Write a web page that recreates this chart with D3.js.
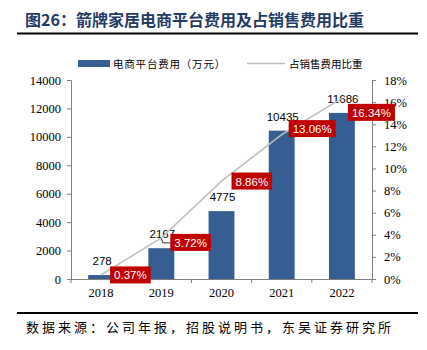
<!DOCTYPE html>
<html><head><meta charset="utf-8">
<script src="https://cdn.jsdelivr.net/npm/d3@7"></script>
<style>body{margin:0;background:#fff}svg{display:block}</style>
</head><body>
<script>
const years = ["2018","2019","2020","2021","2022"];
const costs = [278, 2167, 4775, 10435, 11686];
const ratios = [0.0037, 0.0372, 0.0886, 0.1306, 0.1634];
const leftTicks = [0,2000,4000,6000,8000,10000,12000,14000];
const rightTicks = [0,0.02,0.04,0.06,0.08,0.10,0.12,0.14,0.16,0.18];
const titleText = "图26：箭牌家居电商平台费用及占销售费用比重";
const sourceText = "数据来源：公司年报，招股说明书，东吴证券研究所";
const legendBar = "电商平台费用（万元）";
const legendLine = "占销售费用比重";
// label box offsets relative to line point (layout only)
const boxOffsets = [[9,0],[9,4.5],[10,0],[7,-6],[6,14]];

const W=427,H=350;
const svg=d3.select("body").append("svg").attr("width",W).attr("height",H);
const serif="'Liberation Serif','Times New Roman',serif";
const sans="'Liberation Sans',Arial,sans-serif";
const cjk="'Noto Sans CJK SC',sans-serif";

// title
svg.append("text").attr("x",25).attr("y",26).attr("font-family",cjk).attr("font-weight","bold")
  .attr("font-size",16).attr("fill","#1F3B66").text(titleText);
svg.append("line").attr("x1",17).attr("x2",418).attr("y1",33.5).attr("y2",33.5).attr("stroke","#000").attr("stroke-width",2);

const x=d3.scaleBand().domain(years).range([71,372]).padding(0);
const yL=d3.scaleLinear().domain([0,14000]).range([279,80]);
const yR=d3.scaleLinear().domain([0,0.18]).range([279,80]);
const bw=x.bandwidth()*0.43;
const cx=d=>x(d)+x.bandwidth()/2;

// axes
const axL=svg.append("g").attr("transform","translate(71,0)")
  .call(d3.axisLeft(yL).tickValues(leftTicks).tickSize(4).tickPadding(6).tickFormat(d3.format("d")));
const axR=svg.append("g").attr("transform","translate(372,0)")
  .call(d3.axisRight(yR).tickValues(rightTicks).tickSize(4).tickPadding(8).tickFormat(d3.format(".0%")));
const axB=svg.append("g").attr("transform","translate(0,279)")
  .call(d3.axisBottom(x).tickSize(0).tickPadding(9));
[axL,axR,axB].forEach(g=>{
  g.selectAll("path,line").attr("stroke","#7f7f7f");
  g.selectAll("text").attr("font-family",serif).attr("font-size",12.5).attr("fill","#000");
});
axB.select("path").attr("d","M67,0.5H375");
// band boundary ticks on x axis
svg.append("g").selectAll("line").data(years.concat(["end"])).join("line")
  .attr("x1",(d,i)=>i<years.length?x(d):x(years[years.length-1])+x.bandwidth())
  .attr("x2",(d,i)=>i<years.length?x(d):x(years[years.length-1])+x.bandwidth())
  .attr("y1",279).attr("y2",283).attr("stroke","#7f7f7f");

// bars
svg.append("g").selectAll("rect").data(costs).join("rect")
  .attr("x",(d,i)=>cx(years[i])-bw/2).attr("width",bw)
  .attr("y",d=>yL(d)).attr("height",d=>279-yL(d)).attr("fill","#355E92");

// value labels
svg.append("g").selectAll("text").data(costs).join("text")
  .attr("x",(d,i)=>cx(years[i])+1).attr("y",d=>yL(d)-10)
  .attr("text-anchor","middle").attr("font-family",sans).attr("font-size",11.5).attr("fill","#000")
  .text(d=>d);

// line
const line=d3.line().x((d,i)=>cx(years[i])).y(d=>yR(d));
svg.append("path").datum(ratios).attr("d",line).attr("fill","none").attr("stroke","#BFBFBF").attr("stroke-width",1.6);

// leader for 2019
{
  const px=cx(years[1]), py=yR(ratios[1]);
  svg.append("path").attr("d",`M${px},${py+0.5}L${px+1.5},${py+5}L${px+9},${py+5}`)
    .attr("fill","none").attr("stroke","#000").attr("stroke-width",0.8);
}

// percentage boxes
const fmt=d3.format(".2%");
ratios.forEach((r,i)=>{
  const px=cx(years[i]), py=yR(r);
  const [dx,dy]=boxOffsets[i];
  const g=svg.append("g");
  const t=g.append("text").attr("font-family",sans).attr("font-size",11.5).attr("fill","#fff")
    .attr("dominant-baseline","central").text(fmt(r));
  const tw=t.node().getComputedTextLength();
  const bx=px+dx, bh=17;
  g.insert("rect","text").attr("x",bx).attr("y",py+dy-bh/2).attr("width",tw+8).attr("height",bh).attr("fill","#C00000");
  t.attr("x",bx+4).attr("y",py+dy+0.5);
});

// legend
svg.append("rect").attr("x",78).attr("y",60).attr("width",32).attr("height",7).attr("fill","#355E92");
svg.append("text").attr("x",113).attr("y",67.5).attr("font-family",cjk).attr("font-size",10.5).attr("letter-spacing",0.8).attr("fill","#000").text(legendBar);
svg.append("line").attr("x1",247).attr("x2",285).attr("y1",63.5).attr("y2",63.5).attr("stroke","#BFBFBF").attr("stroke-width",1.6);
svg.append("text").attr("x",289).attr("y",67.5).attr("font-family",cjk).attr("font-size",10.5).attr("fill","#000").text(legendLine);

// footer
svg.append("line").attr("x1",17).attr("x2",418).attr("y1",313).attr("y2",313).attr("stroke","#000").attr("stroke-width",2);
svg.append("text").attr("x",26).attr("y",332).attr("font-family",cjk).attr("font-size",13).attr("letter-spacing",3)
  .attr("fill","#000").text(sourceText);
</script>
</body></html>
